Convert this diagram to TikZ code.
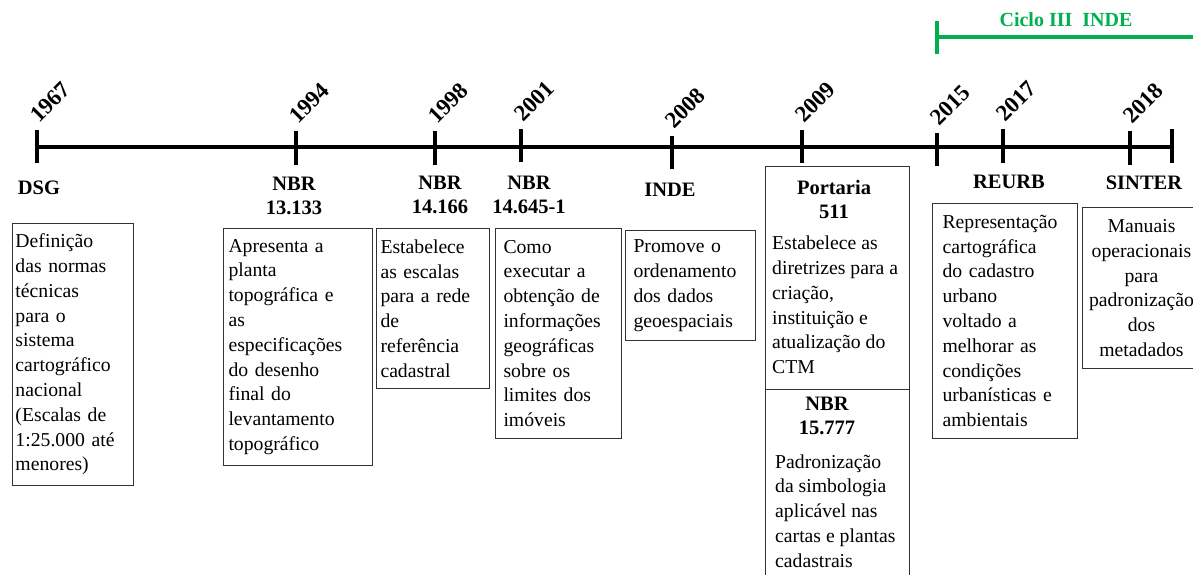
\documentclass[tikz,border=0pt]{standalone}
\usepackage{fontspec}
\setmainfont{Liberation Serif}
\definecolor{cyclegreen}{RGB}{0,176,80}

\begin{document}
\begin{tikzpicture}[x=1pt,y=-1pt,
  axisline/.style={line width=4pt},
  tickline/.style={line width=4pt},
  yearlbl/.style={rotate=45,inner sep=0pt,font=\fontsize{23}{23}\selectfont\bfseries},
  eventlbl/.style={align=center,inner sep=0pt,font=\fontsize{20.5}{24}\selectfont\bfseries},
  descbox/.style={draw=black!80,line width=1pt,anchor=north west,align=left,inner ysep=0pt,font=\fontsize{19.7}{24.8}\selectfont},
  desctext/.style={align=left,inner sep=0pt,font=\fontsize{19.7}{24.8}\selectfont},
  cyclelbl/.style={text=cyclegreen,inner sep=0pt,font=\fontsize{20}{20}\selectfont\bfseries},
  cycleline/.style={draw=cyclegreen,line width=3.5pt}]
\clip (0,0) rectangle (1193,574);

\draw[axisline] (37,147) -- (1172,147);
\foreach \x/\t/\b/\yr in {37/130/163/1967, 296/131/165/1994, 435/131/165/1998,
  521/129/162/2001, 672/136/169/2008, 802/130/163/2009, 937/133/166/2015,
  1003/129/163/2017, 1130/131/165/2018}{
  \draw[tickline] (\x,\t) -- (\x,\b);
  \node[yearlbl] (y\yr) at (\x+13,\t-28) {\yr};
}
\draw[tickline] (1172,129) -- (1172,163);

\node[cyclelbl] (ciclo) at (1066,20) {Ciclo III\ \ INDE};
\draw[cycleline] (937,37) -- (1200,37);
\draw[cycleline] (937,21) -- (937,54);

\node[eventlbl] (dsg) at (39,188) {DSG};
\node[eventlbl] (nbr13) at (294,196) {NBR\\13.133};
\node[eventlbl] (nbr14) at (440,195) {NBR\\14.166};
\node[eventlbl] (nbr146) at (529,195) {NBR\\14.645-1};
\node[eventlbl] (inde) at (670,190) {INDE};
\node[eventlbl] (portaria) at (834,199) {Portaria\\511};
\node[eventlbl] (nbr15) at (827,416) {NBR\\15.777};
\node[eventlbl] (reurb) at (1009,182) {REURB};
\node[eventlbl] (sinter) at (1144,183) {SINTER};

\node[descbox,text width=115pt,inner xsep=3pt,minimum height=262pt] (dsgbox) at (12,223)
  {Definição\\das normas\\técnicas\\para o\\sistema\\cartográfico\\nacional\\(Escalas de\\1:25.000 até\\menores)};
\node[descbox,text width=139pt,inner xsep=5pt,minimum height=237pt] (nbr13box) at (223,228)
  {Apresenta a\\planta\\topográfica e\\as\\especificações\\do desenho\\final do\\levantamento\\topográfico};
\node[descbox,text width=105pt,inner xsep=4pt,minimum height=160pt] (nbr14box) at (376,228)
  {Estabelece\\as escalas\\para a rede\\de\\referência\\cadastral};
\node[descbox,text width=110pt,inner xsep=8pt,minimum height=210pt] (nbr146box) at (495,228)
  {Como\\executar a\\obtenção de\\informações\\geográficas\\sobre os\\limites dos\\imóveis};
\node[descbox,text width=114pt,inner xsep=8pt,minimum height=110pt] (indebox) at (625,230)
  {Promove o\\ordenamento\\dos dados\\geoespaciais};

\node[draw=black!80,line width=1pt,anchor=north west,minimum width=144pt,minimum height=420pt] (portbox) at (765,166) {};
\coordinate (split) at (765,389);
\draw[draw=black!80,line width=1pt] (split) -- ++(144,0);
\node[desctext,anchor=west] (porttext) at (772,305)
  {Estabelece as\\diretrizes para a\\criação,\\instituição e\\atualização do\\CTM};
\node[desctext,anchor=west] (nbr15text) at (775,511)
  {Padronização\\da simbologia\\aplicável nas\\cartas e plantas\\cadastrais};

\node[descbox,text width=125pt,inner xsep=10pt,minimum height=235pt] (reurbbox) at (932,203)
  {Representação\\cartográfica\\do cadastro\\urbano\\voltado a\\melhorar as\\condições\\urbanísticas e\\ambientais};
\node[descbox,align=center,text width=110pt,inner xsep=4pt,minimum height=161pt] (sinterbox) at (1082,207)
  {Manuais\\operacionais\\para\\padronização\\dos\\metadados};
\end{tikzpicture}
\end{document}
